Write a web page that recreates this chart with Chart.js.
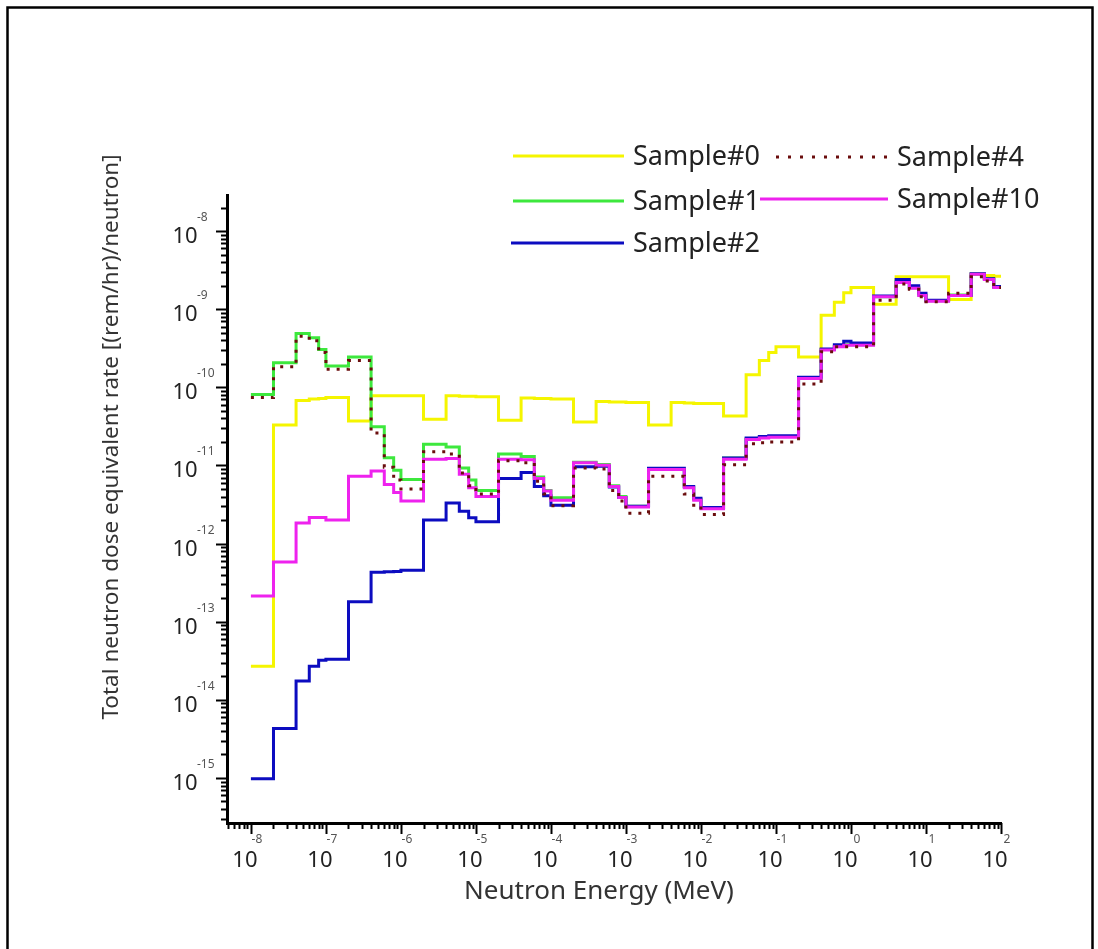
<!DOCTYPE html>
<html><head><meta charset="utf-8">
<script src="https://cdn.jsdelivr.net/npm/chart.js@4.4.1/dist/chart.umd.min.js"></script>
<style>html,body{margin:0;padding:0;background:#fff;}#wrap{position:relative;width:1098px;height:949px;}</style>
</head><body><div id="wrap"><canvas id="c" width="1098" height="949"></canvas></div>
<script>
// Energy bin edges (MeV)
const binEdges = [
  1e-8, 2e-8, 4e-8, 6e-8, 8e-8,
  1e-7, 2e-7, 4e-7, 6e-7, 8e-7,
  1e-6, 2e-6, 4e-6, 6e-6, 8e-6,
  1e-5, 2e-5, 4e-5, 6e-5, 8e-5,
  1e-4, 2e-4, 4e-4, 6e-4, 8e-4,
  1e-3, 2e-3, 4e-3, 6e-3, 8e-3,
  1e-2, 2e-2, 4e-2, 6e-2, 8e-2,
  1e-1, 2e-1, 4e-1, 6e-1, 8e-1,
  1, 2, 4, 6, 8,
  10, 20, 40, 60, 80,
  100
];
const seriesLabels = ['Sample#0', 'Sample#1', 'Sample#2', 'Sample#4', 'Sample#10'];
const sample0 = [
  2.7e-14, 3.3e-11, 6.8e-11, 7.1e-11, 7.2e-11,
  7.4e-11, 3.7e-11, 7.8e-11, 7.8e-11, 7.8e-11,
  7.8e-11, 3.9e-11, 7.8e-11, 7.7e-11, 7.7e-11,
  7.6e-11, 3.8e-11, 7.3e-11, 7.2e-11, 7.2e-11,
  7.1e-11, 3.6e-11, 6.6e-11, 6.5e-11, 6.5e-11,
  6.4e-11, 3.3e-11, 6.4e-11, 6.3e-11, 6.2e-11,
  6.2e-11, 4.3e-11, 1.45e-10, 2.2e-10, 2.8e-10,
  3.3e-10, 2.45e-10, 8.4e-10, 1.23e-9, 1.62e-9,
  1.9e-9, 1.16e-9, 2.6e-9, 2.6e-9, 2.6e-9,
  2.6e-9, 1.33e-9, 2.8e-9, 2.7e-9, 2.65e-9
];
const sample1 = [
  8.1e-11, 2.06e-10, 4.9e-10, 4.3e-10, 3.05e-10,
  1.87e-10, 2.45e-10, 3.12e-11, 1.26e-11, 8.7e-12,
  6.6e-12, 1.87e-11, 1.73e-11, 9.3e-12, 6.5e-12,
  4.8e-12, 1.4e-11, 1.3e-11, 7.1e-12, 4.8e-12,
  3.85e-12, 1.1e-11, 1.03e-11, 5.5e-12, 4.0e-12,
  3.0e-12, 9.0e-12, 9.0e-12, 5.3e-12, 3.7e-12,
  2.85e-12, 1.25e-11, 2.2e-11, 2.3e-11, 2.35e-11,
  2.35e-11, 1.32e-10, 3.05e-10, 3.35e-10, 3.5e-10,
  3.5e-10, 1.45e-9, 2.25e-9, 1.88e-9, 1.52e-9,
  1.28e-9, 1.52e-9, 2.85e-9, 2.45e-9, 1.9e-9
];
const sample2 = [
  9.8e-16, 4.3e-15, 1.74e-14, 2.7e-14, 3.2e-14,
  3.3e-14, 1.8e-13, 4.3e-13, 4.35e-13, 4.4e-13,
  4.55e-13, 2.0e-12, 3.3e-12, 2.6e-12, 2.14e-12,
  1.9e-12, 6.8e-12, 8.1e-12, 5.4e-12, 4.1e-12,
  3.1e-12, 9.6e-12, 9.8e-12, 5.3e-12, 3.9e-12,
  3.0e-12, 9.2e-12, 9.2e-12, 5.4e-12, 3.8e-12,
  2.9e-12, 1.25e-11, 2.25e-11, 2.35e-11, 2.4e-11,
  2.4e-11, 1.35e-10, 3.1e-10, 3.5e-10, 3.9e-10,
  3.7e-10, 1.48e-9, 2.4e-9, 2.0e-9, 1.6e-9,
  1.3e-9, 1.5e-9, 2.85e-9, 2.45e-9, 1.95e-9
];
const sample4 = [
  7.4e-11, 1.83e-10, 4.5e-10, 3.95e-10, 2.8e-10,
  1.7e-10, 2.2e-10, 2.6e-11, 9.5e-12, 6.5e-12,
  5.0e-12, 1.5e-11, 1.4e-11, 8.0e-12, 5.5e-12,
  4.3e-12, 1.15e-11, 1.08e-11, 6.3e-12, 4.3e-12,
  3.05e-12, 9.3e-12, 9.0e-12, 4.8e-12, 3.5e-12,
  2.45e-12, 7.3e-12, 7.3e-12, 4.3e-12, 3.1e-12,
  2.35e-12, 1.02e-11, 1.9e-11, 1.95e-11, 2.0e-11,
  2.0e-11, 1.1e-10, 2.85e-10, 3.3e-10, 3.3e-10,
  3.3e-10, 1.3e-9, 2.1e-9, 1.8e-9, 1.45e-9,
  1.25e-9, 1.6e-9, 2.6e-9, 2.3e-9, 1.9e-9
];
const sample10 = [
  2.14e-13, 5.8e-13, 1.84e-12, 2.16e-12, 2.16e-12,
  2.0e-12, 7.3e-12, 8.5e-12, 5.7e-12, 4.5e-12,
  3.5e-12, 1.2e-11, 1.23e-11, 7.7e-12, 5.2e-12,
  4.0e-12, 1.2e-11, 1.18e-11, 6.8e-12, 4.7e-12,
  3.6e-12, 1.08e-11, 1.01e-11, 5.4e-12, 3.9e-12,
  2.95e-12, 8.9e-12, 8.9e-12, 5.2e-12, 3.6e-12,
  2.8e-12, 1.2e-11, 2.15e-11, 2.25e-11, 2.3e-11,
  2.3e-11, 1.3e-10, 3.0e-10, 3.3e-10, 3.45e-10,
  3.45e-10, 1.44e-9, 2.2e-9, 1.85e-9, 1.5e-9,
  1.27e-9, 1.5e-9, 2.8e-9, 2.4e-9, 1.9e-9
];
const xTickExponents = ['-8','-7','-6','-5','-4','-3','-2','-1','0','1','2'];
const yTickExponents = ['-8','-9','-10','-11','-12','-13','-14','-15'];

const FONT = '"Noto Sans", "Open Sans", sans-serif';
function toPoints(vals){
  return binEdges.map((e,i)=>({x:e, y: vals[Math.min(i, vals.length-1)]}));
}
const colors = {
  'Sample#0':'#f5f500', 'Sample#1':'#3de83d', 'Sample#2':'#0c0cc0', 'Sample#4':'#6a0d0d', 'Sample#10':'#ee22ee'
};
const seriesValues = [sample0, sample1, sample2, sample4, sample10];
const drawOrder = [4, 3, 2, 0, 1];
const datasets = seriesLabels.map((lab, i) => ({
  label: lab,
  data: toPoints(seriesValues[i]),
  borderColor: colors[lab],
  backgroundColor: colors[lab],
  borderWidth: 3,
  stepped: 'before',
  pointRadius: 0,
  fill: false,
  order: drawOrder[i],
  borderDash: lab === 'Sample#4' ? [3, 7] : [],
  borderCapStyle: 'butt'
}));

const framePlugin = {
  id: 'frame',
  beforeDraw(chart){
    const c = chart.ctx;
    c.save();
    c.fillStyle = '#fff';
    c.fillRect(0,0,chart.width,chart.height);
    c.strokeStyle = '#000';
    c.lineWidth = 2.5;
    c.strokeRect(7.5, 7.5, 1085, 960);
    c.restore();
  }
};

const axisPlugin = {
  id: 'axisDeco',
  afterDraw(chart){
    const c = chart.ctx;
    const xs = chart.scales.x, ys = chart.scales.y;
    const area = chart.chartArea;
    c.save();
    c.strokeStyle = '#000';
    c.lineWidth = 2;
    // x ticks
    for (let e = -9; e <= 2; e++) {
      for (let m = 1; m <= 9; m++) {
        const v = m * Math.pow(10, e);
        if (v < xs.min * 0.999 || v > xs.max * 1.001) continue;
        const px = Math.round(xs.getPixelForValue(v)) + 0.5;
        const len = m === 1 ? 11 : 6;
        c.beginPath(); c.moveTo(px, area.bottom); c.lineTo(px, area.bottom + len); c.stroke();
      }
    }
    // y ticks
    for (let e = -17; e <= -7; e++) {
      for (let m = 1; m <= 9; m++) {
        const v = m * Math.pow(10, e);
        if (v < ys.min * 0.999 || v > ys.max * 1.001) continue;
        const py = Math.round(ys.getPixelForValue(v)) + 0.5;
        const len = m === 1 ? 11 : 6;
        c.beginPath(); c.moveTo(area.left, py); c.lineTo(area.left - len, py); c.stroke();
      }
    }
    // x labels
    c.textBaseline = 'alphabetic';
    xTickExponents.forEach(ex => {
      const px = xs.getPixelForValue(Math.pow(10, Number(ex)));
      c.fillStyle = '#222';
      c.font = '22px ' + FONT;
      c.textAlign = 'center';
      c.fillText('10', px - 6, 867);
      c.fillStyle = '#555';
      c.font = '12px ' + FONT;
      c.textAlign = 'center';
      c.fillText(ex, px + 6, 843);
    });
    // y labels
    yTickExponents.forEach(ex => {
      const py = ys.getPixelForValue(Math.pow(10, Number(ex)));
      c.fillStyle = '#222';
      c.font = '22px ' + FONT;
      c.textAlign = 'center';
      c.fillText('10', 185, py + 12);
      c.fillStyle = '#555';
      c.font = '12px ' + FONT;
      c.textAlign = 'left';
      c.fillText(ex, 197, py - 10);
    });
    // axis titles
    c.fillStyle = '#333';
    c.textAlign = 'center';
    c.textBaseline = 'middle';
    c.font = '26px ' + FONT;
    c.fillText('Neutron Energy (MeV)', 599, 892);
    c.font = '22.5px ' + FONT;
    c.translate(112, 437);
    c.rotate(-Math.PI/2);
    c.fillText('Total neutron dose equivalent rate [(rem/hr)/neutron]', 0, 0);
    c.restore();
  }
};

const legendPlugin = {
  id: 'customLegend',
  afterDraw(chart){
    const c = chart.ctx;
    const items = {
      'Sample#0': {x1:513, x2:624, y:156, tx:633},
      'Sample#4': {x1:776, x2:890, y:157, tx:897},
      'Sample#1': {x1:513, x2:624, y:201, tx:633},
      'Sample#10': {x1:760, x2:888, y:199, tx:897},
      'Sample#2': {x1:511, x2:624, y:243, tx:633}
    };
    c.save();
    chart.data.datasets.forEach(ds => {
      const it = items[ds.label];
      c.strokeStyle = ds.borderColor;
      c.lineWidth = 3;
      c.setLineDash(ds.borderDash && ds.borderDash.length ? [3, 9] : []);
      c.beginPath(); c.moveTo(it.x1, it.y); c.lineTo(it.x2, it.y); c.stroke();
      c.setLineDash([]);
      c.fillStyle = '#222';
      c.font = '27px ' + FONT;
      c.textAlign = 'left';
      c.textBaseline = 'middle';
      c.fillText(ds.label, it.tx, it.y + 1);
    });
    c.restore();
  }
};

new Chart(document.getElementById('c').getContext('2d'), {
  type: 'line',
  data: { datasets },
  options: {
    responsive: false,
    animation: false,
    layout: { padding: { left: 227, top: 195, right: 97, bottom: 126 } },
    plugins: { legend: { display: false }, tooltip: { enabled: false } },
    scales: {
      x: {
        type: 'logarithmic', min: 4.8e-9, max: 100,
        ticks: { display: false },
        grid: { display: false, drawTicks: false },
        border: { display: true, color: '#000', width: 3 },
        afterFit(s){ s.height = 0; }
      },
      y: {
        type: 'logarithmic', min: 2.65e-16, max: 2.9e-8,
        ticks: { display: false },
        grid: { display: false, drawTicks: false },
        border: { display: true, color: '#000', width: 3 },
        afterFit(s){ s.width = 0; }
      }
    }
  },
  plugins: [framePlugin, axisPlugin, legendPlugin]
});
</script>
</body></html>
